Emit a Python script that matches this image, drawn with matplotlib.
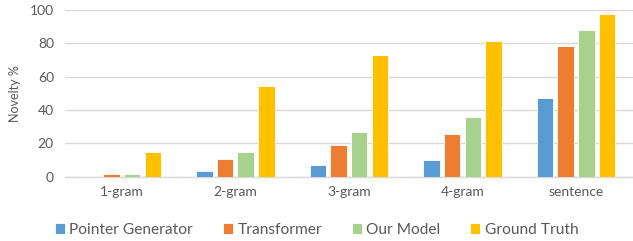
import matplotlib
matplotlib.use("Agg")
import matplotlib.pyplot as plt
import numpy as np

categories = ["1-gram", "2-gram", "3-gram", "4-gram", "sentence"]
series_names = ["Pointer Generator", "Transformer", "Our Model", "Ground Truth"]
pointer_generator = [0.3, 3.1, 6.9, 10.1, 47.0]
transformer = [1.3, 10.3, 18.9, 25.5, 78.6]
our_model = [1.7, 14.7, 26.5, 35.5, 88.0]
ground_truth = [14.5, 54.4, 73.0, 81.6, 97.6]
yticks = [0, 20, 40, 60, 80, 100]

colors = ["#5B9BD5", "#ED7D31", "#A9D18E", "#FFC000"]
text_color = "#595959"
grid_color = "#D9D9D9"

plt.rcParams['font.family'] = ['Lato', 'DejaVu Sans']

fig = plt.figure(figsize=(6.33, 2.41), dpi=100)
ax = fig.add_axes([0.1027, 0.2676, 0.897, 0.6909])

x = np.arange(len(categories))
pitch = 0.182
width = 0.145
data = [pointer_generator, transformer, our_model, ground_truth]
for i, (vals, name, c) in enumerate(zip(data, series_names, colors)):
    ax.bar(x + (i - 1.5) * pitch, vals, width=width, color=c, label=name,
           edgecolor="white", linewidth=0.6, zorder=3)

ax.set_xlim(-0.5, len(categories) - 0.5)
ax.set_ylim(0, 100)
ax.set_yticks(yticks)
ax.set_xticks(x)
ax.set_xticklabels(categories)
ax.tick_params(axis='both', length=0, colors=text_color, labelsize=10)
ax.tick_params(axis='x', pad=7)
ax.tick_params(axis='y', pad=8)
ax.yaxis.grid(True, color=grid_color, linewidth=1.0, zorder=0)
ax.set_axisbelow(True)
for s in ["left", "right", "top"]:
    ax.spines[s].set_visible(False)
ax.spines["bottom"].set_color(grid_color)
ax.spines["bottom"].set_linewidth(1.0)
ax.set_ylabel("Novelty %", color=text_color, fontsize=9, labelpad=6)

leg = fig.legend(loc="center", bbox_to_anchor=(0.5, 0.045), ncol=4, frameon=False,
                 fontsize=11.2, handlelength=0.65, handleheight=0.65, handletextpad=0.3,
                 columnspacing=1.9)
for t in leg.get_texts():
    t.set_color(text_color)

fig.savefig("out.png", dpi=100)
